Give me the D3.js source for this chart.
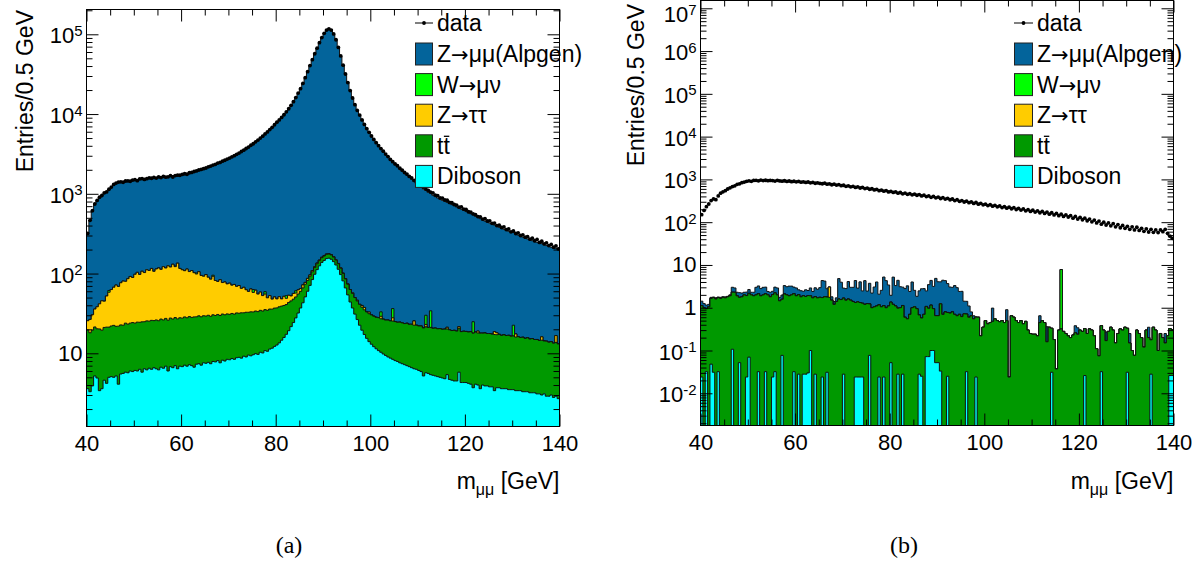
<!DOCTYPE html>
<html><head><meta charset="utf-8">
<script src="https://cdn.jsdelivr.net/npm/d3@7"></script>
<style>body{margin:0;background:#fff}svg{display:block}</style>
</head><body><svg id="c" width="1201" height="565"></svg>
<script>
// ---------------- data ----------------
const X_MIN = 40, X_MAX = 140, BIN = 0.5, NBINS = 200;
const X_TICKS = [40, 60, 80, 100, 120, 140];
const Y_TICKS_A = [[10, "10", ""], [100, "10", "2"], [1000, "10", "3"], [10000, "10", "4"], [100000, "10", "5"]];
const Y_TICKS_B = [[0.01, "10", "-2"], [0.1, "10", "-1"], [1, "1", ""], [10, "10", ""], [100, "10", "2"], [1000, "10", "3"],
                   [10000, "10", "4"], [100000, "10", "5"], [1000000, "10", "6"], [10000000, "10", "7"]];
const LEGEND = ["data", "Z→μμ(Alpgen)", "W→μν", "Z→ττ", "tt", "Diboson"];
const CAPTIONS = ["(a)", "(b)"];

// panel (a): 0.5 GeV bins from 40 to 140
const DATA_A = [
 318,465,615,745,826,905,952,1030,1055,1140, 1215,1310,1365,1405,1412,1396,1448,1452,1436,1488,
 1505,1462,1538,1552,1515,1548,1583,1566,1604,1575, 1628,1596,1652,1618,1635,1688,1625,1695,1714,1708,
 1752,1784,1758,1836,1852,1905,1936,1988,2024,2068, 2106,2178,2224,2290,2344,2428,2476,2566,2636,2728,
 2806,2912,3004,3128,3242,3390,3522,3700,3852,4060, 4244,4480,4712,5000,5282,5630,5970,6390,6820,7340,
 7900,8450,9080,9800,10650,11650,12850,14300,16100,18300, 20800,24200,28600,34000,40500,48000,57000,67000,78500,91000,
 103000,113000,117000,113000,101000,85500,68500,53500,41000,31800, 24800,19700,15900,13100,11100,9700,8450,7420,6580,5900,
 5310,4810,4370,4010,3690,3420,3150,2930,2700,2530, 2370,2250,2090,1985,1850,1770,1650,1580,1470,1410,
 1335,1250,1215,1150,1105,1050,1025,965,948,890, 885,838,830,780,772,735,722,680,684,642,
 636,596,590,560,548,518,514,482,488,456, 458,426,430,400,404,378,384,356,362,334,
 342,318,324,300,306,286,290,270,278,258, 268,246,254,236,242,224,232,214,222,204];
const ZMM_A = [
 294,443,590,704,792,858,914,975,1008,1072, 1157,1233,1288,1331,1343,1340,1360,1364,1358,1391,
 1391,1396,1422,1423,1437,1439,1455,1459,1483,1486, 1491,1507,1507,1523,1524,1545,1549,1574,1575,1610,
 1637,1666,1685,1724,1750,1792,1836,1875,1930,1973, 2012,2080,2144,2198,2268,2341,2396,2484,2562,2647,
 2733,2838,2936,3056,3174,3320,3458,3633,3796,3992, 4185,4413,4659,4937,5232,5570,5925,6333,6778,7286,
 7850,8400,9030,9750,10600,11600,12800,14250,16050,18240, 20740,24130,28530,33920,40400,47890,56880,66860,78350,90840,
 102830,112820,116820,112830,100840,85350,68370,53380,40900,31710, 24726,19637,15843,13050,11054,9659,8410,7382,6547,5867,
 5174,4674,4262,3890,3590,3312,3067,2832,2620,2442, 2284,2148,2012,1886,1779,1682,1585,1498,1411,1333,
 1242,1180,1123,1071,1023,980,938,900,866,833, 807,783,759,735,712,688,664,645,621,602,
 580,561,542,523,504,485,470,452,437,423, 411,398,387,375,363,354,342,332,322,312,
 305,296,288,279,271,264,256,250,243,236, 232,226,221,215,210,205,200,195,191,186];
const WMN_A = [
 0,0,0,0,0,0,0,0,0,3, 0,0,0,0,0,0,0,0,0,0, 0,0,0,0,0,0,0,0,0,0, 0,0,0,0,0,0,0,2.5,0,0,
 0,0,0,0,0,0,3,0,0,0, 0,0,0,3,0,0,0,0,0,0, 0,0,0,0,0,0,0,0,0,0, 5,0,0,0,0,4,0,0,0,0,
 0,0,0,0,4,0,0,0,4,0, 0,0,0,0,0,0,0,0,0,0, 0,0,0,0,0,0,0,0,0,0, 0,0,0,0,0,0,0,0,0,0,
 0,0,0,0,4,0,0,0,0,8.5, 0,0,0,0,0,0,0,0,0,0, 0,0,0,7,0,13,0,0,0,0, 0,0,0,0,0,0,0,0,0,0,
 0,0,0,7,0,0,0,0,0,0, 0,0,0,0,0,0,0,0,0,0, 6,0,0,0,0,0,0,0,0,0, 0,0,0,0,0,0,0,0,0,0];
const ZTT_A = [
 6,8.5,11,14.5,18,21.5,26,24,31,37, 41,45,50,47,54,58,56,63,68,65,
 74,79,73,82,78,86,84,90,81,88, 92,86,96,90,99,93,104,94,108,88,
 84,80,86,77,81,74,70,76,66,63, 68,60,56,62,52,49,54,46,48,43,
 45,40,42,37,39,33,35,30,27,31, 25,28,22,24,19,20,15,17,12,14,
 11,13,9,12,8,10,7,8.5,6,7, 5,6,4,5,3.5,4,3,3,2.5,2,
 2,1.5,1.5,1.5,1.5,1,1,1.5,1,1, 1,0,1,0,1,0,2,2.5,0,1.5,
 0,0,0,0,2,0,0,0,0,2.5, 0,0,0,0,0,0,0,0,3,0,
 0,0,0,1.5,0,0,0,0,0,0, 0,0,1,0,0,0,0,1,0,0,
 0,0,0,0,0,1,0,0,0,0, 0,0,1.5,1,0,0,0,0,0,0,
 0,1.5,0,0,0,0,0,0,0,0, 0,0,1.5,0,0,0,0,0,3,0];
const TTB_A = [
 16.0,14.8,15.6,16.2,15.4,16.8,15.9,16.5,17.1,16.3, 16.9,17.4,16.6,17.8,17.2,16.9,18.1,17.5,17.9,18.4,
 17.8,18.6,18.2,19.0,18.5,19.3,18.8,19.6,19.1,19.8, 19.4,20.2,19.7,20.5,20.0,20.9,20.3,21.1,20.6,21.0,
 20.8,21.5,21.0,21.7,21.2,21.9,21.4,22.1,21.6,22.0, 21.8,22.3,21.7,22.5,22.0,22.6,22.2,22.9,22.4,22.8,
 22.5,23.0,22.6,23.3,22.9,23.5,23.0,23.7,23.2,23.8, 23.4,24.0,23.6,24.3,23.8,24.5,24.0,24.6,24.2,24.7,
 24.4,24.8,24.5,24.0,23.6,24.2,23.8,23.5,23.1,23.4, 22.8,23.1,22.5,22.0,21.6,21.2,20.8,20.5,20.3,20.1,
 20.0,20.2,19.8,20.1,19.9,19.6,19.8,19.5,19.3,19.6, 19.4,19.1,19.3,19.0,18.8,18.6,18.3,17.9,17.6,17.4,
 17.3,17.1,16.9,17.2,16.8,17.0,16.7,17.1,16.8,17.0, 16.9,16.6,17.0,16.7,16.4,16.8,16.3,16.5,16.1,16.2,
 15.9,16.1,15.6,15.8,15.5,15.7,15.3,15.5,15.2,15.4, 15.1,15.3,14.8,15.0,14.7,14.9,14.5,14.8,14.4,14.6,
 14.5,14.3,14.6,14.2,14.4,14.0,14.3,13.9,14.1,13.8, 13.9,13.6,13.8,13.4,13.6,13.2,13.5,13.1,13.3,12.9,
 13.0,12.6,12.8,12.4,12.6,12.1,12.4,11.9,12.1,11.7, 11.8,11.4,11.6,11.2,11.3,10.9,11.0,10.6,10.8,10.4];
const DIB_A = [
 3.6,3.3,3.9,5.2,4.9,3.4,3.6,4.6,4.2,5.0, 5.1,5.0,5.2,4.1,5.5,5.6,5.8,5.7,6.0,5.9,
 6.1,6.0,6.3,5.8,6.4,6.2,6.5,6.3,6.6,6.4, 6.2,6.7,6.5,6.9,6.0,6.8,6.6,7.0,6.4,6.9,
 6.8,7.1,6.9,7.2,7.0,6.7,7.3,7.4,7.1,7.6, 7.5,7.7,7.4,7.9,7.8,8.1,7.6,8.2,8.0,8.4,
 8.3,8.6,8.4,8.8,8.9,8.7,9.2,9.0,9.5,9.3, 9.6,9.9,9.7,10.3,10.1,10.8,10.6,11.3,11.6,12.2,
 12.7,13.5,14.6,15.8,17.3,19.2,21.6,24.3,27.8,32.0, 37,43,51,60,71,84,98,112,125,138,
 146,154,156,151,141,128,113,97,81,66, 54,44,37,31,26.5,22.5,19.5,17.2,15.4,14.0,
 13.0,12.1,11.4,10.8,10.3,9.8,9.4,9.0,8.7,8.4, 8.1,7.9,7.6,7.4,7.2,7.0,6.8,6.6,6.4,6.3,
 6.1,5.9,5.2,5.7,5.6,5.4,5.3,5.2,5.1,5.0, 4.9,4.8,5.4,4.7,4.6,4.5,4.5,5.8,4.3,4.3,
 4.3,4.2,4.1,3.7,4.1,4.0,3.6,4.0,3.9,3.9, 3.8,3.8,3.4,3.7,3.7,3.6,3.6,3.6,3.5,3.5,
 3.5,3.4,3.4,3.4,3.3,3.3,3.3,3.2,3.2,3.2, 3.1,3.1,3.0,3.1,2.9,2.9,3.0,2.8,2.9,2.7];

// panel (b)
const DATA_B = [
 150,188,230,266,320,350,336,410,476,512, 545,596,636,680,708,765,786,838,868,902,
 928,900,944,952,926,965,938,955,934,946, 940,915,952,922,908,930,896,918,885,905,
 878,898,860,876,848,870,830,850,812,830, 806,792,818,772,790,750,772,736,755,712,
 730,688,708,670,690,648,670,630,648,610, 628,588,605,568,586,546,562,530,548,510,
 524,496,512,476,494,460,478,448,464,436, 454,426,442,410,428,396,412,382,400,370,
 386,358,374,346,362,334,348,320,336,308, 320,296,310,286,298,274,288,264,276,254,
 264,244,256,236,248,228,240,220,232,213, 224,206,218,198,210,192,204,184,196,178,
 190,172,184,166,178,160,172,154,166,148, 160,142,154,136,148,132,142,124,136,118,
 130,114,124,108,118,102,112,96,106,90, 100,86,96,82,92,78,88,74,84,72,
 80,68,78,66,76,64,72,61,70,59, 68,58,66,57,66,60,68,55,47,42];
const ZMM_B = [
 0.3,0.25,0.2,0.15,0.1,0.05,0.1,0.05,0.1,0.05, 0.1,0.05,0.1,0.7,0.6,0.4,0.5,0.4,0.3,0.4,
 0.5,0.3,0.4,1.0,1.1,0.9,1.0,0.9,0.4,0.5, 0.4,0.8,0.9,0.3,0.4,1.2,1.1,1.3,1.2,0.9,
 1.0,0.6,0.7,0.5,0.8,0.6,1.0,0.7,1.1,1.0, 1.2,2.6,2.4,1.0,0,0.3,0.2,0.3,3.2,2.4,
 1.2,1.3,2.5,1.5,1.6,3.0,1.5,2.7,1.2,3.1, 1.2,2.5,1.2,2.0,2.9,0.9,1.5,4.1,3.3,2.3,
 0.6,4.0,2.2,3.4,2.1,1.9,2.2,2.7,1.7,3.0, 1.5,0.9,1.8,2.2,2.1,1.4,2.5,3.2,2.2,4.2,
 3.4,2.8,3.7,3.5,2.9,2.3,2.2,2.6,2.3,1.7, 1.8,0.7,0.7,0.5,0.15,0.1,0,0,0,0,
 0,0,0,0.5,0,0,0,0,0,0.4, 0,0,0,0,0,0,0,0,0,0,
 0,0,0,0.2,0,0,0.2,0,0,0, 0,0,0,0,0,0,0,0,0.12,0.1,
 0,0,0,0,0,0,0,0,0,0, 0,0.1,0,0,0,0,0,0,0,0,
 0,0.1,0,0,0,0,0,0,0,0.15, 0,0,0,0,0,0,0.1,0,0,0];
const WMN_B = Array.from({length: NBINS}, (_, k) => (k === 152 ? 7.5 : 0));
const ZTT_B = Array.from({length: NBINS}, (_, k) => (k === 54 ? 1.3 : 0));
const TTB_B = [
 1.10,1.00,0.92,1.05,1.60,1.70,1.60,1.70,1.65,1.75, 1.70,1.80,1.90,2.20,2.30,1.90,1.70,1.80,2.00,1.90,
 2.10,2.00,1.90,2.00,2.10,1.90,2.00,2.10,2.00,1.80, 2.00,2.20,2.00,1.45,1.50,2.10,2.00,1.90,2.00,2.10,
 1.90,2.00,1.80,1.90,1.80,1.90,1.80,1.70,1.80,1.70, 1.75,1.70,1.80,1.75,1.75,1.50,1.20,1.40,1.60,1.55,
 1.65,1.50,1.60,1.50,1.40,1.30,1.35,1.30,1.25,1.20, 1.25,1.15,1.00,1.05,1.10,1.15,1.05,1.10,1.00,1.10,
 1.30,1.20,1.10,0.95,1.00,1.10,0.60,0.55,0.70,1.00, 1.05,0.95,0.65,0.55,0.70,1.00,0.90,1.05,0.85,0.60,
 0.60,1.20,0.70,0.80,0.75,0.75,0.80,0.70,0.65,0.70, 0.62,0.72,0.68,0.60,0.65,0.55,0.58,0.60,0.22,0.35,
 0.50,0.42,0.45,0.48,0.55,0.50,0.47,0.50,0.45,0.50, 0.024,0.65,0.60,0.50,0.45,0.50,0.42,0.48,0.30,0.25,
 0.24,0.24,0.22,0.45,0.50,0.45,0.16,0.35,0.30,0.18, 0.037,0.30,0.32,0.28,0.25,0.22,0.20,0.23,0.26,0.24,
 0.30,0.28,0.30,0.25,0.32,0.30,0.22,0.11,0.075,0.35, 0.30,0.17,0.28,0.35,0.30,0.15,0.25,0.32,0.30,0.35,
 0.30,0.15,0.10,0.077,0.30,0.25,0.20,0.12,0.30,0.20, 0.15,0.35,0.30,0.10,0.25,0.20,0.15,0.22,0.30,0.28];
const DIB_B = [
 0.024,0,0.032,0,0.048,0.031,0,0.032,0,0, 0,0,0,0.107,0,0,0.052,0,0,0.024,
 0.07,0,0,0,0.032,0,0,0.032,0,0, 0.024,0.032,0,0,0.077,0,0,0,0,0.032,
 0,0.028,0,0.028,0.028,0.03,0.1,0,0.028,0, 0,0.024,0,0.031,0,0,0,0,0,0,
 0.028,0,0,0,0,0.024,0.024,0.024,0.024,0, 0,0.077,0,0,0,0.024,0,0.024,0,0,
 0.052,0,0,0.028,0,0.028,0,0,0,0, 0,0,0.028,0.025,0,0.072,0.072,0.1,0.1,0.052,
 0.052,0.033,0,0,0.025,0,0,0,0,0, 0,0,0.032,0,0,0,0.024,0,0,0,
 0,0,0,0,0,0,0,0,0,0, 0,0,0,0,0,0,0,0,0,0,
 0,0,0,0,0,0,0,0,0.031,0, 0,0,0,0,0,0,0,0,0,0,
 0,0,0.026,0,0,0,0,0,0,0.032, 0,0,0,0,0,0,0,0,0,0,
 0.031,0,0,0,0,0,0,0,0,0, 0.028,0,0,0,0,0,0,0,0.026,0.026];

// ---------------- drawing ----------------
const FONT = '"Liberation Sans", Arial, Helvetica, sans-serif';
const COL = {zmm: '#03649b', wmn: '#00ff00', ztt: '#ffcc00', ttb: '#009900', dib: '#00ffff'};
const KEYS = ['dib', 'ttb', 'ztt', 'wmn', 'zmm'];
const LEG_KEYS = ['zmm', 'wmn', 'ztt', 'ttb', 'dib'];
const svg = d3.select('#c');
svg.append('rect').attr('width', 1201).attr('height', 565).attr('fill', '#fff');

const PANELS = [
  {id: 'a', l: 86.5, r: 559.5, t: 9.5, b: 426.5, ylo: 0.0822, yhi: 5.311, yt: Y_TICKS_A,
   data: DATA_A, comp: {zmm: ZMM_A, wmn: WMN_A, ztt: ZTT_A, ttb: TTB_A, dib: DIB_A},
   legX: 415, legW: 18, ytitleX: 33, ytitleY: 10, cap: CAPTIONS[0], capX: 289},
  {id: 'b', l: 700.5, r: 1173.5, t: 0.5, b: 425.5, ylo: -2.753, yhi: 7.182, yt: Y_TICKS_B,
   data: DATA_B, comp: {zmm: ZMM_B, wmn: WMN_B, ztt: ZTT_B, ttb: TTB_B, dib: DIB_B},
   legX: 1014, legW: 19, ytitleX: 644, ytitleY: 4, cap: CAPTIONS[1], capX: 904}
];

// write a label, rendering the arrow with a wider glyph
function richText(t, lab) {
  const parts = lab.split('→');
  parts.forEach((p, i) => {
    if (i > 0) t.append('tspan').attr('font-family', '"DejaVu Sans", sans-serif').attr('font-size', 21).text('→');
    if (p) t.append('tspan').text(p);
  });
}

PANELS.forEach(P => {
  const g = svg.append('g');
  const x = d3.scaleLinear().domain([X_MIN, X_MAX]).range([P.l, P.r]);
  const ymin = Math.pow(10, P.ylo), ymax = Math.pow(10, P.yhi);
  const y = d3.scaleLog().domain([ymin, ymax]).range([P.b, P.t]);
  const yy = v => (v <= ymin ? P.b + 2 : y(v));
  const clipId = 'clip' + P.id;
  svg.append('clipPath').attr('id', clipId).append('rect')
     .attr('x', P.l).attr('y', P.t).attr('width', P.r - P.l).attr('height', P.b - P.t);
  const plot = g.append('g').attr('clip-path', `url(#${clipId})`);

  const rows = d3.range(NBINS).map(i => {
    const o = {}; KEYS.forEach(k => o[k] = P.comp[k][i]); return o;
  });
  const stacked = d3.stack().keys(KEYS)(rows);
  for (let s = KEYS.length - 1; s >= 0; s--) {
    const layer = stacked[s];
    let d = `M${x(X_MIN)},${P.b + 2}`;
    layer.forEach((v, i) => {
      const lo = X_MIN + i * BIN, hi = lo + BIN, yv = yy(v[1]);
      d += `L${x(lo)},${yv}L${x(hi)},${yv}`;
    });
    d += `L${x(X_MAX)},${P.b + 2}Z`;
    plot.append('path').attr('d', d).attr('fill', COL[KEYS[s]])
        .attr('stroke', '#111').attr('stroke-width', 1).attr('stroke-linejoin', 'miter');
  }
  // data points
  const dg = plot.append('g');
  P.data.forEach((v, i) => {
    const lo = X_MIN + i * BIN, hi = lo + BIN, c = lo + BIN / 2;
    dg.append('line').attr('x1', x(lo)).attr('x2', x(hi)).attr('y1', y(v)).attr('y2', y(v))
      .attr('stroke', '#000').attr('stroke-width', 1);
    dg.append('circle').attr('cx', x(c)).attr('cy', y(v)).attr('r', 1.9).attr('fill', '#000');
  });

  // frame
  g.append('rect').attr('x', P.l).attr('y', P.t).attr('width', P.r - P.l).attr('height', P.b - P.t)
   .attr('fill', 'none').attr('stroke', '#000').attr('stroke-width', 1);

  // x ticks (bottom and top) via d3 axes
  const xMinor = d3.range(X_MIN, X_MAX + 0.1, 5).filter(v => !X_TICKS.includes(v));
  const strip = sel => { sel.select('.domain').remove(); sel.selectAll('line').attr('stroke', '#000'); };
  g.append('g').attr('transform', `translate(0,${P.b})`)
   .call(d3.axisBottom(x).tickValues(X_TICKS).tickSize(-12).tickPadding(8.5))
   .call(strip).call(s => s.selectAll('text').attr('font-family', FONT).attr('font-size', 22).attr('fill', '#000'));
  g.append('g').attr('transform', `translate(0,${P.b})`)
   .call(d3.axisBottom(x).tickValues(xMinor).tickSize(-6).tickFormat('')).call(strip);
  g.append('g').attr('transform', `translate(0,${P.t})`)
   .call(d3.axisTop(x).tickValues(X_TICKS).tickSize(-12).tickFormat('')).call(strip);
  g.append('g').attr('transform', `translate(0,${P.t})`)
   .call(d3.axisTop(x).tickValues(xMinor).tickSize(-6).tickFormat('')).call(strip);

  // y ticks (log)
  const majors = P.yt.map(t => t[0]);
  const minors = [];
  for (let e = Math.floor(P.ylo); e <= Math.ceil(P.yhi); e++)
    for (let m = 2; m <= 9; m++) { const v = m * Math.pow(10, e); if (v > ymin && v < ymax) minors.push(v); }
  g.append('g').attr('transform', `translate(${P.l},0)`)
   .call(d3.axisLeft(y).tickValues(majors).tickSize(-12).tickFormat('')).call(strip);
  g.append('g').attr('transform', `translate(${P.l},0)`)
   .call(d3.axisLeft(y).tickValues(minors).tickSize(-6).tickFormat('')).call(strip);
  g.append('g').attr('transform', `translate(${P.r},0)`)
   .call(d3.axisRight(y).tickValues(majors).tickSize(-12).tickFormat('')).call(strip);
  g.append('g').attr('transform', `translate(${P.r},0)`)
   .call(d3.axisRight(y).tickValues(minors).tickSize(-6).tickFormat('')).call(strip);

  // y labels
  P.yt.forEach(([v, base, ex]) => {
    const by = Math.max(y(v) + (ex ? 9 : 7.5), ex ? 22 : 16);
    const t = g.append('text').attr('x', P.l - 4).attr('y', by)
      .attr('text-anchor', 'end').attr('font-family', FONT).attr('font-size', 22).attr('fill', '#000');
    t.append('tspan').text(base);
    if (ex) t.append('tspan').attr('font-size', 15).attr('dy', -7.5).text(ex);
  });

  // axis titles
  g.append('text').attr('transform', `translate(${P.ytitleX},${P.ytitleY}) rotate(-90)`)
   .attr('text-anchor', 'end').attr('font-family', FONT).attr('font-size', 23).attr('fill', '#000')
   .text('Entries/0.5 GeV');
  const xt = g.append('text').attr('x', P.r).attr('y', 489).attr('text-anchor', 'end')
   .attr('font-family', FONT).attr('font-size', 23).attr('fill', '#000');
  xt.append('tspan').text('m');
  xt.append('tspan').attr('font-size', 16).attr('dy', 6).text('μμ');
  xt.append('tspan').attr('dy', -6).text(' [GeV]');

  // legend
  const lg = g.append('g');
  const rowY = i => 23 + (i === 0 ? 0 : 31 + (i - 1) * 30.6);
  const tx = P.legX + P.legW + 4;
  lg.append('line').attr('x1', P.legX).attr('x2', P.legX + P.legW).attr('y1', rowY(0)).attr('y2', rowY(0))
    .attr('stroke', '#000').attr('stroke-width', 1);
  lg.append('circle').attr('cx', P.legX + P.legW / 2).attr('cy', rowY(0)).attr('r', 1.9).attr('fill', '#000');
  LEGEND.forEach((lab, i) => {
    const cy = rowY(i);
    if (i > 0) {
      lg.append('rect').attr('x', P.legX + 0.5).attr('y', cy - 11).attr('width', P.legW - 1).attr('height', 22)
        .attr('fill', COL[LEG_KEYS[i - 1]]).attr('stroke', '#222').attr('stroke-width', 1);
    }
    const t = lg.append('text').attr('x', tx).attr('y', cy + 8).attr('font-family', FONT)
      .attr('font-size', 23).attr('fill', '#000');
    richText(t, lab);
    if (lab === 'tt') {
      const r = t.node().getExtentOfChar(1);
      lg.append('line').attr('x1', r.x + 0.5).attr('x2', r.x + r.width - 0.5)
        .attr('y1', cy - 9.5).attr('y2', cy - 9.5).attr('stroke', '#000').attr('stroke-width', 1.3);
    }
  });

  // caption
  svg.append('text').attr('x', P.capX).attr('y', 553).attr('text-anchor', 'middle')
     .attr('font-family', '"Liberation Serif", "DejaVu Serif", serif').attr('font-size', 24)
     .attr('fill', '#000').text(P.cap);
});
</script></body></html>
